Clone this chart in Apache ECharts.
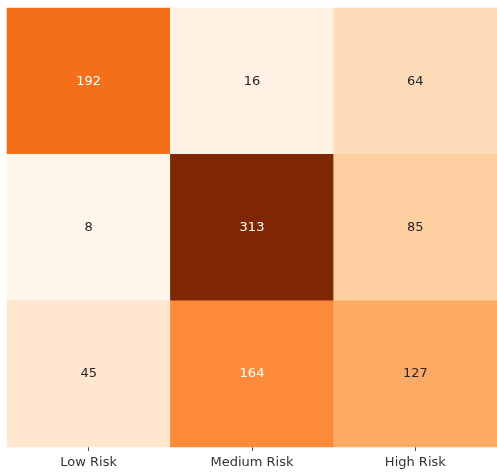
<!DOCTYPE html>
<html>
<head>
<meta charset="utf-8">
<script src="https://cdn.jsdelivr.net/npm/echarts@6/dist/echarts.min.js"></script>
<style>html,body{margin:0;padding:0;background:#fff;}#c{width:497px;height:473px;}</style>
</head>
<body>
<div id="c"></div>
<script>
const xLabels = ['Low Risk', 'Medium Risk', 'High Risk'];
const yLabels = ['Low Risk', 'Medium Risk', 'High Risk'];
const row0 = [192, 16, 64];
const row1 = [8, 313, 85];
const row2 = [45, 164, 127];
const rows = [row0, row1, row2];
const oranges = ['#fff5eb','#fee6ce','#fdd0a2','#fdae6b','#fd8d3c','#f16913','#d94801','#a63603','#7f2704'];

const data = [];
rows.forEach((r, yi) => r.forEach((v, xi) => {
  data.push({value: [xi, yi, v], label: {color: v > 150 ? '#ffffff' : '#262626'}});
}));
const all = rows.flat();
const chart = echarts.init(document.getElementById('c'));
chart.setOption({
  animation: false,
  grid: {left: 7, right: 0, top: 8, bottom: 26},
  xAxis: {
    type: 'category', data: xLabels, position: 'bottom',
    axisLine: {show: false},
    axisTick: {show: true, alignWithLabel: true, length: 4, lineStyle: {color: '#555'}},
    axisLabel: {color: '#333', fontFamily: 'DejaVu Sans', fontSize: 13, margin: 9},
    splitLine: {show: false}
  },
  yAxis: {
    type: 'category', data: yLabels, inverse: true,
    axisLine: {show: false}, axisTick: {show: false}, axisLabel: {show: false}
  },
  visualMap: {
    show: false, min: Math.min(...all), max: Math.max(...all), dimension: 2,
    inRange: {color: oranges}
  },
  series: [{
    type: 'heatmap', data: data,
    label: {show: true, fontFamily: 'DejaVu Sans', fontSize: 13},
    itemStyle: {borderWidth: 0}
  }]
});
</script>
</body>
</html>
